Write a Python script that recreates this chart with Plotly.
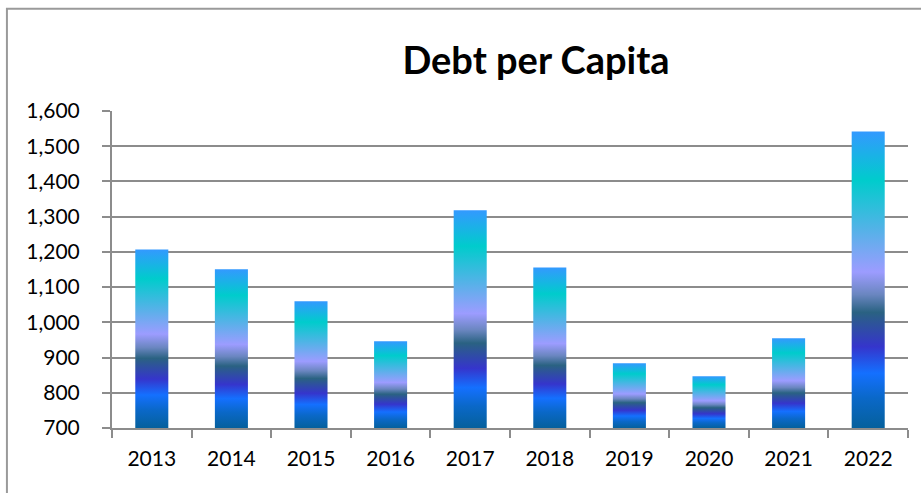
import plotly.graph_objects as go

# ---- data ----
years = ["2013", "2014", "2015", "2016", "2017", "2018", "2019", "2020", "2021", "2022"]
debt_per_capita = [1207, 1151, 1060, 946, 1318, 1156, 884, 847, 955, 1542]
y_ticks = [700, 800, 900, 1000, 1100, 1200, 1300, 1400, 1500, 1600]

# ---- styling ----
axis_min, axis_max = 700, 1600
bar_width = 0.415
grey = "#8c8c8c"
font_family = "Lato, 'Open Sans', sans-serif"
bar_gradient = [
    [0.00, "#05609c"],
    [0.10, "#0a68c8"],
    [0.185, "#1470ff"],
    [0.274, "#3535cc"],
    [0.39, "#2a6282"],
    [0.45, "#6a86c0"],
    [0.526, "#9c9cff"],
    [0.835, "#00cccc"],
    [1.00, "#3399ff"],
]

fig = go.Figure()

# invisible trace that lays out the year categories on the labelled axis
fig.add_trace(go.Scatter(x=years, y=debt_per_capita, mode="none",
                         hoverinfo="skip", showlegend=False))

# each bar is a filled rectangle with a vertical gradient running from the axis floor to its value
for i, (year, value) in enumerate(zip(years, debt_per_capita)):
    x0, x1 = i - bar_width / 2, i + bar_width / 2
    fig.add_trace(go.Scatter(
        x=[x0, x1, x1, x0, x0],
        y=[axis_min, axis_min, value, value, axis_min],
        xaxis="x2",
        mode="lines",
        fill="toself",
        fillgradient=dict(type="vertical", colorscale=bar_gradient,
                          start=axis_min, stop=value),
        line=dict(width=0, color="rgba(0,0,0,0)"),
        hoveron="fills",
        name=year,
        text=f"{year}: {value:,}",
        hoverinfo="text",
        showlegend=False,
    ))

fig.update_layout(
    width=921, height=493,
    margin=dict(l=112, r=13, t=111, b=65),
    paper_bgcolor="white", plot_bgcolor="white",
    font=dict(family=font_family, color="#000000", size=21),
    title=dict(text="<b>Debt per Capita</b>", x=536 / 921, xref="container", xanchor="center",
               y=1 - 61 / 493, yref="container", yanchor="middle",
               font=dict(family=font_family, size=38, color="#000000")),
    xaxis=dict(type="category", range=[-0.5, 9.5], tickson="boundaries",
               ticks="outside", ticklen=8, tickwidth=2, tickcolor=grey,
               showline=True, linecolor=grey, linewidth=2, showgrid=False,
               ticklabelstandoff=11, tickfont=dict(size=21)),
    xaxis2=dict(overlaying="x", range=[-0.5, 9.5], visible=False),
    yaxis=dict(range=[axis_min, axis_max], tickvals=y_ticks, tickformat=",",
               showgrid=True, gridcolor=grey, gridwidth=2, zeroline=False,
               showline=True, linecolor=grey, linewidth=2,
               ticks="outside", ticklen=8, tickwidth=2, tickcolor=grey,
               ticklabelstandoff=18, tickfont=dict(size=21)),
    shapes=[dict(type="rect", xref="paper", yref="paper",
                 x0=-0.132, x1=1.05, y0=-0.3, y1=(427.7 - 8.5) / 317,
                 line=dict(color="#9a9a9a", width=2), fillcolor="rgba(0,0,0,0)",
                 layer="below")],
)

fig.write_html("out.html")
